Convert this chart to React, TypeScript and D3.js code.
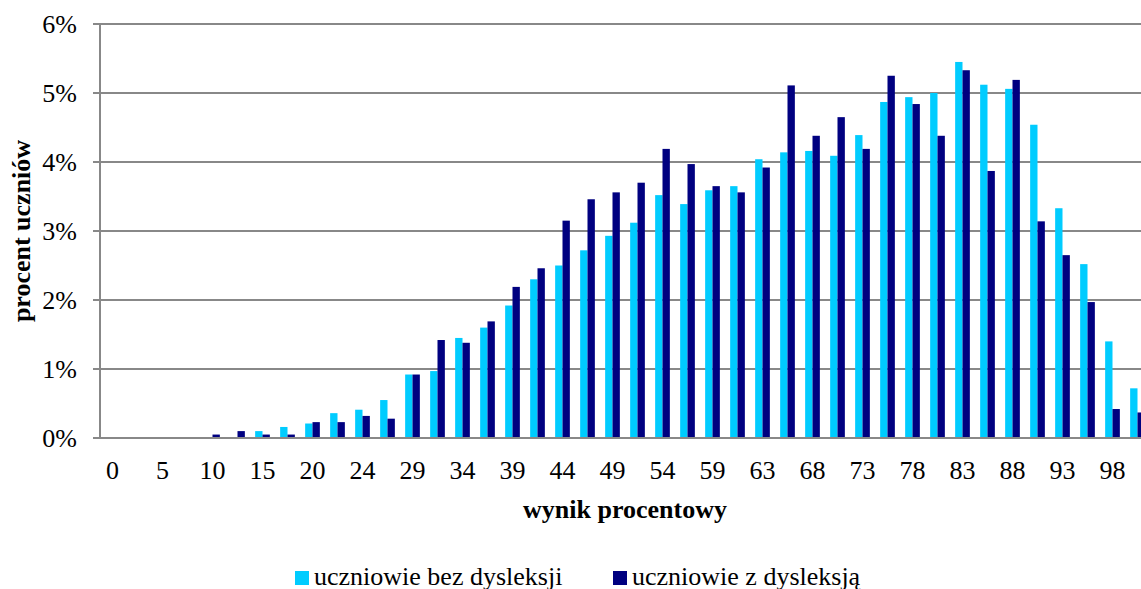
import React, { useEffect, useRef } from 'react';
import * as d3 from 'd3';

// Score categories (percent of max points), every other one labelled
const categories: string[] = [
  "0", "2", "5", "7", "10", "12", "15", "17", "20", "22", "24", "27", "29", "32",
  "34", "37", "39", "41", "44", "46", "49", "51", "54", "56", "59", "61", "63", "66",
  "68", "71", "73", "76", "78", "80", "83", "85", "88", "90", "93", "95", "98", "100",
];

// uczniowie bez dysleksji (% of students)
const bezDysleksji: number[] = [
  0, 0, 0, 0, 0, 0.01, 0.10, 0.16, 0.21, 0.36, 0.41, 0.55, 0.92, 0.97,
  1.45, 1.60, 1.92, 2.30, 2.50, 2.72, 2.93, 3.12, 3.52, 3.39, 3.59, 3.65, 4.04, 4.14,
  4.16, 4.09, 4.39, 4.87, 4.94, 5.00, 5.45, 5.12, 5.06, 4.54, 3.33, 2.52, 1.40, 0.72,
];

// uczniowie z dysleksją (% of students)
const zDysleksja: number[] = [
  0, 0, 0, 0, 0.05, 0.10, 0.05, 0.05, 0.23, 0.23, 0.32, 0.28, 0.92, 1.42,
  1.38, 1.69, 2.19, 2.46, 3.15, 3.46, 3.56, 3.70, 4.19, 3.97, 3.65, 3.56, 3.92, 5.11,
  4.38, 4.65, 4.19, 5.25, 4.84, 4.38, 5.33, 3.87, 5.19, 3.14, 2.65, 1.97, 0.42, 0.37,
];

const yTicks: number[] = [0, 1, 2, 3, 4, 5, 6];

const seriesNames = ["uczniowie bez dysleksji", "uczniowie z dysleksją"];
const seriesColors = ["#00CCFF", "#000080"];

const FONT = '"Liberation Serif", "Times New Roman", Times, serif';

const App: React.FC = () => {
  const ref = useRef<SVGSVGElement | null>(null);

  useEffect(() => {
    if (!ref.current) return;
    const svg = d3.select(ref.current);
    svg.selectAll("*").remove();

    const gridColor = "#888888";
    const left = 100, right = 1150, top = 24, bottom = 438;

    // Excel-like gap width 70%
    const x = d3.scaleBand<string>()
      .domain(categories)
      .range([left, right])
      .paddingInner(0.7 / 1.7)
      .paddingOuter(0.35 / 1.7);

    const xs = d3.scaleBand<number>()
      .domain([0, 1])
      .range([0, x.bandwidth()]);

    const y = d3.scaleLinear().domain([0, 6]).range([bottom, top]);

    // gridlines + y ticks
    svg.append("g")
      .selectAll("line")
      .data(yTicks)
      .enter()
      .append("line")
      .attr("x1", left - 7)
      .attr("x2", right)
      .attr("y1", (d) => y(d))
      .attr("y2", (d) => y(d))
      .attr("stroke", gridColor)
      .attr("stroke-width", 2);

    svg.append("g")
      .selectAll("text")
      .data(yTicks)
      .enter()
      .append("text")
      .attr("x", 77)
      .attr("y", (d) => y(d) + 9)
      .attr("text-anchor", "end")
      .attr("font-family", FONT)
      .attr("font-size", 26)
      .text((d) => d + "%");

    // bars
    const seriesData = [bezDysleksji, zDysleksja];
    seriesData.forEach((vals, si) => {
      svg.append("g")
        .selectAll("rect")
        .data(vals)
        .enter()
        .append("rect")
        .attr("x", (_, i) => (x(categories[i]) || 0) + (xs(si) || 0))
        .attr("y", (d) => y(d))
        .attr("width", xs.bandwidth())
        .attr("height", (d) => bottom - y(d))
        .attr("fill", seriesColors[si]);
    });

    // axes lines
    svg.append("line")
      .attr("x1", left).attr("x2", left)
      .attr("y1", top).attr("y2", bottom)
      .attr("stroke", gridColor).attr("stroke-width", 2);
    svg.append("line")
      .attr("x1", left - 7).attr("x2", right)
      .attr("y1", bottom).attr("y2", bottom)
      .attr("stroke", gridColor).attr("stroke-width", 2);

    // x tick labels, every other category
    svg.append("g")
      .selectAll("text")
      .data(categories.filter((_, i) => i % 2 === 0))
      .enter()
      .append("text")
      .attr("x", (d) => (x(d) || 0) + x.bandwidth() / 2)
      .attr("y", 479)
      .attr("text-anchor", "middle")
      .attr("font-family", FONT)
      .attr("font-size", 26)
      .text((d) => d);

    // axis titles
    svg.append("text")
      .attr("x", (left + right) / 2)
      .attr("y", 518)
      .attr("text-anchor", "middle")
      .attr("font-family", FONT)
      .attr("font-size", 26)
      .attr("font-weight", "bold")
      .text("wynik procentowy");

    svg.append("text")
      .attr("transform", `translate(30,${(top + bottom) / 2}) rotate(-90)`)
      .attr("text-anchor", "middle")
      .attr("font-family", FONT)
      .attr("font-size", 26)
      .attr("font-weight", "bold")
      .text("procent uczniów");

    // legend
    const legendX = [295, 613];
    seriesNames.forEach((name, i) => {
      svg.append("rect")
        .attr("x", legendX[i])
        .attr("y", 571)
        .attr("width", 14)
        .attr("height", 14)
        .attr("fill", seriesColors[i]);
      svg.append("text")
        .attr("x", legendX[i] + 19)
        .attr("y", 585)
        .attr("font-family", FONT)
        .attr("font-size", 26)
        .text(name);
    });
  }, []);

  return (
    <svg
      ref={ref}
      width={1141}
      height={589}
      style={{ position: 'absolute', left: 0, top: 0, background: '#fff', fontFamily: FONT }}
    ></svg>
  );
};

export default App;
